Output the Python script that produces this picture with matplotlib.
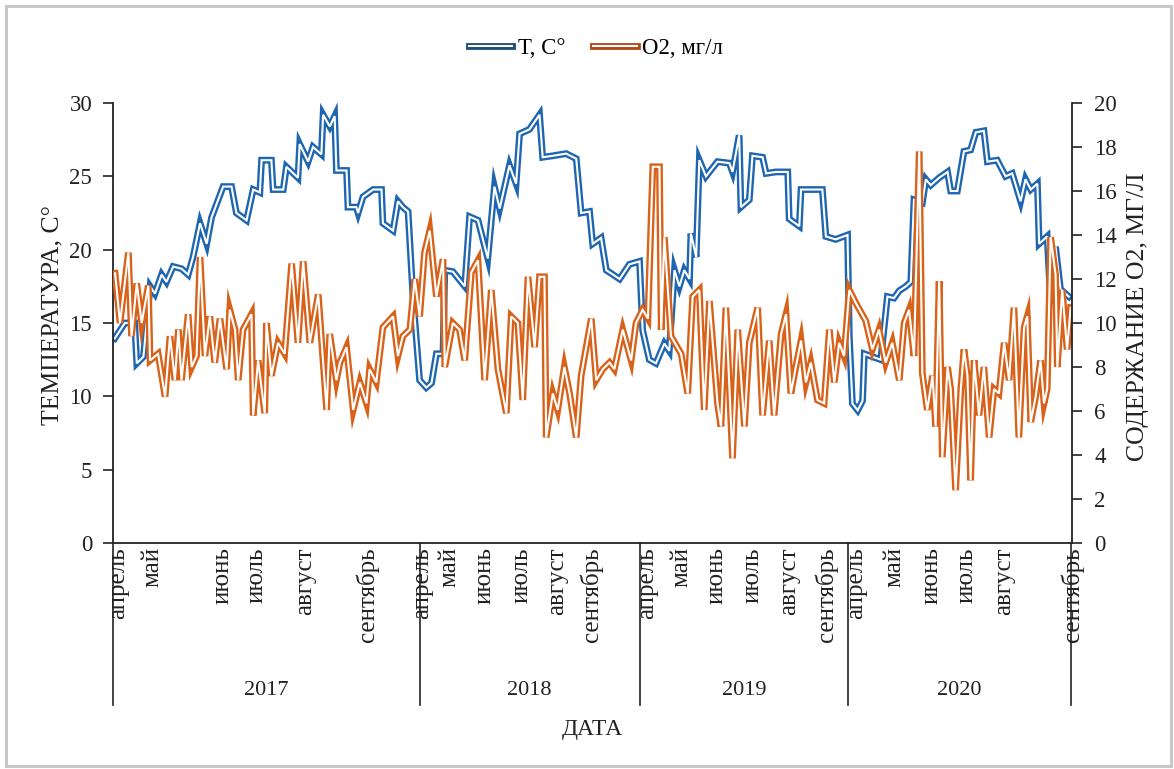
import matplotlib
matplotlib.use("Agg")
import matplotlib.pyplot as plt
import matplotlib.patheffects as pe
from matplotlib.lines import Line2D
from matplotlib.patches import Rectangle
import matplotlib.transforms as mtransforms

# ---------------- data (positions along the category axis) ----------------
temp_pos = [0.5, 3.4, 6.2, 6.8, 8.7, 10.6, 12, 13.9, 15.3, 17.2, 19.6, 21.5, 22.9, 24.9, 26.8, 28.2,
            31.5, 33.9, 35.3, 38.2, 40.1, 42, 42.5, 45.3, 45.8, 48.7, 49.6, 52.9, 53.4, 55.8, 57.2,
            59.6, 60.1, 62, 63.4, 63.9, 66.8, 67.2, 69.6, 70.1, 71.5, 74.4, 76.8, 77.2, 80.1, 81.5,
            82.9, 84.4, 85.8, 87.7, 89.6,
            91.1, 92.5, 94.4, 94.9, 97.2, 100.6, 102, 104.4, 107.2, 109.1, 110.6, 113.4, 115.3, 116.3,
            119.1, 122, 122.9, 125.8, 129.6, 132.5, 133.9, 136.3, 137.2, 139.6, 141.1, 143, 144.9,
            147.7, 150.6, 151.5, 153.4,
            155.3, 157.7, 159.1, 160.6, 162, 163.4, 164.9, 165.3, 166.8, 167.7, 169.6, 172.9, 176.3,
            177.2, 179.1, 179.6, 182, 182.9, 185.8, 186.8, 189.6, 193, 193.4, 196.3, 196.8, 202.9,
            203.9, 206.7, 210.1, 210.6,
            211.5, 213, 214.4, 214.9, 217.2, 219.6, 221.5, 223.4, 224.9, 226.8, 228.2, 229.1, 231.5,
            232.5, 233.9, 236.3, 238.7, 239.6, 241.5, 243.4, 245.3, 246.8, 249.1, 250.1, 252.9, 255.3,
            257.2, 259.6, 261, 262.5, 264.4, 264.9, 267.2, 268.2, 269.6, 271, 273.4]
temp_vals = [13.95, 15.0, 15.0, 12.25, 12.7, 17.5, 17.0, 18.3, 17.8, 18.85, 18.7, 18.3, 19.5, 21.8, 20.4, 22.2,
             24.3, 24.3, 22.5, 22.0, 24.1, 23.9, 26.1, 26.1, 24.1, 24.1, 25.65, 24.9, 27.2, 26.0, 27.0,
             26.5, 29.2, 28.4, 29.1, 25.4, 25.4, 22.9, 22.9, 22.5, 23.6, 24.1, 24.1, 21.8, 21.3, 23.3,
             22.9, 22.6, 16.8, 11.1, 10.6,
             10.9, 12.9, 12.9, 18.6, 18.5, 17.5, 22.25, 22.0, 19.4, 24.3, 22.8, 25.75, 24.5, 27.9,
             28.2, 29.2, 26.3, 26.4, 26.55, 26.2, 22.5, 22.6, 20.4, 20.8, 18.6, 18.3, 18.0,
             19.0, 19.2, 14.5, 12.5,
             12.25, 13.6, 13.1, 18.6, 17.5, 18.6, 18.0, 21.1, 19.5, 26.1, 25.0, 26.0, 25.9,
             25.3, 27.8, 22.9, 23.4, 26.4, 26.3, 25.2, 25.3, 25.3, 22.1, 21.6, 24.1, 24.1,
             20.9, 20.7, 21.0, 14.1,
             9.5, 9.05, 9.7, 12.9, 12.7, 12.5, 16.8, 16.7, 17.2, 17.5, 17.8, 23.4, 23.2,
             24.8, 24.4, 24.9, 25.3, 24.0, 24.0, 26.7, 26.8, 28.0, 28.1, 26.0, 26.1, 25.0,
             25.2, 23.3, 24.8, 24.1, 24.5, 20.4, 20.9, 16.3, 20.2, 17.3, 16.8]

o2_pos = [0.6, 2.0, 4.4, 5.3, 6.8, 8.2, 10.1, 10.6, 12.9, 14.9, 16.3, 17.7, 18.7, 19.6, 21.5, 22.5, 23.9,
          24.9, 26.3, 27.7, 29.1, 30.6, 32.5, 33.4, 34.9, 35.8, 37.2, 39.6, 40.1, 41.5, 43.4, 43.9, 45.3,
          47.2, 49.1, 51.1, 52.9, 54.4, 56.3, 58.7, 61.1, 62, 63.9, 64.9, 66.8, 68.7, 70.6, 72.5, 73.4,
          75.3, 77.2, 80.1, 81.5, 82.9, 84.9, 86.3, 87.7, 89.1, 90.6,
          92.5, 94.4, 94.9, 97.2, 99.1, 100.6, 102.5, 104.4, 106.3, 108.2, 110.1, 112.5, 113.9, 115.8,
          117.2, 118.7, 120.6, 122, 123.4, 123.9, 125.8, 127.2, 129.1, 130.6, 132.5, 133.9, 136.8, 138.2,
          140.1, 142, 143.4, 145.8, 148.2, 149.6, 151.5,
          153, 154.4, 156.3, 156.8, 157.7, 159.6, 162.5, 164.4, 165.8, 167.7, 169.1, 170.6, 172.9, 173.9,
          175.3, 177.2, 178.7, 180.6, 182, 184.4, 185.8, 187.7, 189.1, 191.1, 192.5, 193.9, 195.3, 196.8,
          198.2, 199.6, 201.5, 203.4, 204.9, 206.3, 207.7, 209.1, 210.6, 212.5,
          215.3, 217.2, 219.1, 221, 222.9, 224.9, 226.3, 227.7, 229.1, 230.6, 231.5, 232.9, 234.4, 235.3,
          236.3, 237.2, 238.7, 239.6, 241, 242.5, 243.4, 244.4, 245.3, 246.3, 247.7, 249.1, 250.6, 252,
          253.4, 254.9, 256.3, 257.7, 259.1, 260.6, 261.5, 262.5, 263.9, 265.3, 266.3, 267.2, 268.2, 269.6,
          270.1, 271.5, 272.9, 273.9]
o2_vals = [12.26, 10.0, 13.2, 9.4, 11.8, 10.0, 11.7, 8.3, 8.6, 6.65, 9.4, 7.4, 9.7, 7.4, 10.4, 8.0, 8.5,
           13.0, 8.5, 10.3, 8.2, 10.2, 7.9, 10.6, 9.7, 7.4, 9.7, 10.4, 5.8, 8.3, 5.9, 10.0, 7.6,
           9.1, 8.6, 12.7, 9.1, 12.8, 9.1, 11.3, 6.05, 9.5, 7.4, 8.2, 8.9, 6.05, 7.3, 6.35, 7.9,
           7.3, 9.8, 10.3, 8.5, 9.4, 9.7, 12.0, 10.3, 13.2, 14.2,
           11.2, 12.9, 8.0, 10.0, 9.7, 8.3, 12.3, 12.85, 7.4, 11.5, 7.9, 5.9, 10.3, 10.0,
           6.5, 12.1, 8.9, 12.1, 12.1, 4.8, 6.8, 6.05, 8.0, 6.8, 4.8, 7.6, 10.2, 7.4,
           7.9, 8.2, 7.9, 9.7, 8.3, 10.0, 10.6,
           10.2, 17.1, 17.1, 9.7, 13.9, 9.4, 8.6, 6.8, 11.2, 11.5, 6.05, 11.0, 6.35, 5.3,
           10.7, 3.85, 9.7, 5.3, 9.1, 10.7, 5.8, 9.2, 5.8, 9.5, 10.4, 6.8, 8.0, 9.2,
           7.3, 8.2, 6.5, 6.35, 9.7, 7.3, 9.1, 8.5, 11.5, 10.9,
           10.1, 8.8, 9.7, 8.2, 9.1, 7.4, 10.0, 10.6, 8.5, 17.8, 7.7, 6.05, 7.6, 5.3,
           11.9, 3.9, 8.0, 7.0, 2.4, 7.0, 8.8, 7.6, 2.85, 8.3, 5.8, 8.0, 4.8, 7.0,
           6.8, 9.1, 7.4, 10.7, 4.8, 9.8, 10.3, 5.5, 6.65, 8.3, 6.35, 7.0, 13.9, 12.2,
           8.0, 11.5, 8.8, 10.7]

month_labels = ["апрель", "май", "июнь", "июль", "август", "сентябрь",
                "апрель", "май", "июнь", "июль", "август", "сентябрь",
                "апрель", "май", "июнь", "июль", "август", "сентябрь",
                "апрель", "май", "июнь", "июль", "август", "сентябрь"]
month_pos = [1.4, 11.4, 31.4, 41.1, 54.9, 72.6,
             88.5, 96.3, 106.3, 116.9, 126.9, 136.9,
             152.9, 162.6, 172.6, 182.9, 193.4, 204.0,
             212.6, 223.4, 234.0, 244.0, 254.9, 274.3]
years = ["2017", "2018", "2019", "2020"]
year_bounds = [0, 87.7, 150.6, 210.3, 274]

# ---------------- style ----------------
FONT = "Liberation Serif"
plt.rcParams["font.family"] = [FONT, "DejaVu Serif"]
FS_TICK, FS_MONTH, FS_YEAR, FS_TITLE, FS_LEG, FS_X = 16.5, 18, 16, 18.5, 16.5, 17

BLUE_D, ORANGE_D = "#1f66b0", "#d8621a"
BLUE_L, ORANGE_L = "#1f4e79", "#b0481a"
AXC = "#222222"

fig = plt.figure(figsize=(11.74, 7.69), dpi=100)
fig.patches.append(Rectangle((6 / 1174, 3 / 769), 1165 / 1174, 760 / 769, transform=fig.transFigure,
                             fill=False, edgecolor="#c8c8c8", linewidth=2.2))

ax = fig.add_axes([113 / 1174, 1 - 543 / 769, (1072 - 113) / 1174, 440 / 769])
ax2 = ax.twinx()

def double_line(axis, x, y, dark):
    axis.plot(x, y, color="white", linewidth=1.5, solid_joinstyle="miter",
              path_effects=[pe.Stroke(linewidth=4.9, foreground=dark, joinstyle="miter"), pe.Normal()])

double_line(ax, temp_pos, temp_vals, BLUE_D)
double_line(ax2, o2_pos, o2_vals, ORANGE_D)

ax.set_xlim(year_bounds[0], year_bounds[-1])
ax.set_ylim(0, 30)
ax2.set_ylim(0, 20)
ax.set_yticks(range(0, 31, 5))
ax2.set_yticks(range(0, 21, 2))

for a in (ax, ax2):
    a.spines["top"].set_visible(False)
    for s in ("left", "right", "bottom"):
        a.spines[s].set_color(AXC)
        a.spines[s].set_linewidth(1.3)
ax.spines["right"].set_visible(False)
ax2.spines["left"].set_visible(False)
ax2.spines["bottom"].set_visible(False)

ax.tick_params(axis="y", direction="out", length=7, width=1.2, pad=8, labelsize=FS_TICK, colors=AXC)
ax2.tick_params(axis="y", direction="out", length=7, width=1.2, pad=9, labelsize=FS_TICK, colors=AXC)
ax.set_xticks(month_pos)
ax.set_xticklabels(month_labels, rotation=90, va="top", ha="center", fontsize=FS_MONTH)
ax.tick_params(axis="x", length=0, pad=3, colors=AXC)

# multi-level category axis: year separators and year labels
trans = mtransforms.blended_transform_factory(ax.transData, ax.transAxes)
for b in year_bounds:
    ax.plot([b, b], [0, -0.368], transform=trans, color=AXC, linewidth=1.2, clip_on=False)
for i, yr in enumerate(years):
    ax.text((year_bounds[i] + year_bounds[i + 1]) / 2, -0.336, yr, transform=trans,
            ha="center", va="center", fontsize=FS_YEAR, color=AXC)

fig.text((113 + 1072) / 2 / 1174, 1 - 730 / 769, "ДАТА", ha="center", va="center", fontsize=FS_X, color=AXC)
fig.text(52 / 1174, 1 - 315 / 769, "ТЕМПЕРАТУРА, С°", rotation=90, ha="center", va="center",
         fontsize=FS_TITLE, color=AXC)
fig.text(1138 / 1174, 1 - 317 / 769, "СОДЕРЖАНИЕ О2, МГ/Л", rotation=90, ha="center", va="center",
         fontsize=FS_TITLE, color=AXC)

def legend_handle(dark):
    return Line2D([0], [0], color="white", linewidth=1.5,
                  path_effects=[pe.Stroke(linewidth=4.9, foreground=dark), pe.Normal()])

fig.legend([legend_handle(BLUE_L), legend_handle(ORANGE_L)], ["Т, С°", "О2, мг/л"],
           loc="center", bbox_to_anchor=(596 / 1174, 1 - 48 / 769), ncol=2, frameon=False,
           handlelength=1.9, handletextpad=0.25, columnspacing=1.2, fontsize=FS_LEG)

fig.savefig("out.png", dpi=100, facecolor="white")
